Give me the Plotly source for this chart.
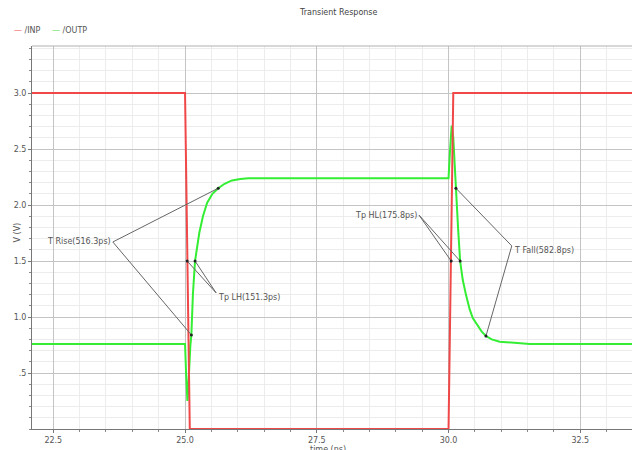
import plotly.graph_objects as go

# ---- data ----
inp_t = [22.0, 25.0, 25.09, 30.0, 30.09, 34.0]
inp_v = [3.0, 3.0, 0.0, 0.0, 3.0, 3.0]

outp_t = [22.0, 25.0, 25.02, 25.045, 25.06, 25.08, 25.1, 25.12, 25.15, 25.19, 25.23, 25.27,
          25.34, 25.42, 25.52, 25.63, 25.75, 25.89, 26.05, 26.2, 26.6, 30.0, 30.03, 30.06,
          30.09, 30.11, 30.14, 30.18, 30.22, 30.27, 30.33, 30.4, 30.46, 30.55, 30.63, 30.71,
          30.82, 30.97, 31.2, 31.54, 34.0]
outp_v = [0.76, 0.76, 0.5, 0.25, 0.35, 0.62, 0.74, 0.84, 1.21, 1.5, 1.64, 1.75,
          1.9, 2.02, 2.1, 2.15, 2.19, 2.22, 2.233, 2.238, 2.24, 2.24, 2.5, 2.71,
          2.6, 2.4, 2.15, 1.8, 1.5, 1.33, 1.2, 1.07, 0.99, 0.92, 0.87, 0.83,
          0.8, 0.78, 0.77, 0.76, 0.76]

# measurement points (time ns, volts)
meas_names = ["T Rise(516.3ps)", "Tp LH(151.3ps)", "Tp HL(175.8ps)", "T Fall(582.8ps)"]
meas_pts = [
    [(25.63, 2.15), (25.12, 0.84)],
    [(25.04, 1.5), (25.19, 1.5)],
    [(30.05, 1.5), (30.22, 1.5)],
    [(30.14, 2.15), (30.71, 0.83)],
]
# label anchor points (where leader lines meet)
label_anchor = [(23.63, 1.67), (25.59, 1.215), (29.44, 1.91), (31.2, 1.635)]
label_side = ["left", "right", "left", "right"]

y_ticks = [0.5, 1.0, 1.5, 2.0, 2.5, 3.0]
y_tick_text = [".5", "1.0", "1.5", "2.0", "2.5", "3.0"]
x_ticks = [22.5, 25.0, 27.5, 30.0, 32.5]
x_tick_text = ["22.5", "25.0", "27.5", "30.0", "32.5"]

RED = "#f04848"
GREEN = "#33ee33"
FONT = "DejaVu Sans"
TXT = "#555555"
FS = 8

OFF = 8  # page body margin
L, T, B, R = 24, 38, 29, 8
PW, PH = 640 - L - R, 450 - T - B


def px_x(x):
    return (x - OFF - L) / PW


def px_y(y):
    return (450 - B - (y - OFF)) / PH


fig = go.Figure()

fig.add_trace(go.Scatter(x=outp_t, y=outp_v, mode="lines", name="/OUTP",
                         line=dict(color=GREEN, width=2), showlegend=False))
fig.add_trace(go.Scatter(x=inp_t, y=inp_v, mode="lines", name="/INP",
                         line=dict(color=RED, width=2), showlegend=False))

annotations = []
for name, pts, anc, side in zip(meas_names, meas_pts, label_anchor, label_side):
    for (px, py) in pts:
        fig.add_trace(go.Scatter(x=[anc[0], px], y=[anc[1], py], mode="lines",
                                 line=dict(color="#666666", width=1),
                                 showlegend=False, hoverinfo="skip"))
    fig.add_trace(go.Scatter(x=[p[0] for p in pts], y=[p[1] for p in pts], mode="markers",
                             marker=dict(color="#222222", size=3),
                             showlegend=False, hoverinfo="skip"))
    annotations.append(dict(x=anc[0], y=anc[1], xref="x", yref="y", text=name,
                            showarrow=False, xanchor="right" if side == "left" else "left",
                            yanchor="middle" if side == "left" else "top",
                            yshift=0 if side == "left" else 2,
                            font=dict(family=FONT, size=FS, color=TXT)))

annotations.append(dict(x=px_x(338), y=px_y(13), xref="paper", yref="paper",
                        text="Transient Response", showarrow=False, yanchor="middle",
                        font=dict(family=FONT, size=FS, color="#444444")))
annotations.append(dict(x=px_x(12), y=px_y(30), xref="paper", yref="paper",
                        text="<span style='color:#f07070'>\u2014</span> /INP",
                        showarrow=False, xanchor="left", yanchor="middle",
                        font=dict(family=FONT, size=FS, color=TXT)))
annotations.append(dict(x=px_x(50), y=px_y(30), xref="paper", yref="paper",
                        text="<span style='color:#70e070'>\u2014</span> /OUTP",
                        showarrow=False, xanchor="left", yanchor="middle",
                        font=dict(family=FONT, size=FS, color=TXT)))
annotations.append(dict(x=px_x(328), y=px_y(449), xref="paper", yref="paper",
                        text="time (ns)", showarrow=False, yanchor="middle",
                        font=dict(family=FONT, size=FS, color=TXT)))
annotations.append(dict(x=px_x(10), y=px_y(233), xref="paper", yref="paper",
                        text="V (V)", showarrow=False, textangle=-90,
                        font=dict(family=FONT, size=FS, color=TXT)))

fig.update_layout(
    width=640, height=450,
    margin=dict(l=L, r=R, t=T, b=B, autoexpand=False),
    paper_bgcolor="white", plot_bgcolor="white",
    font=dict(family=FONT, size=FS, color=TXT),
    showlegend=False,
    annotations=annotations,
)
fig.update_xaxes(range=[22.096, 33.633], tickvals=x_ticks, ticktext=x_tick_text,
                 automargin=False,
                 showgrid=True, gridcolor="#c4c4c4", gridwidth=1,
                 ticks="outside", ticklen=3, tickcolor="#777777",
                 showline=True, linecolor="#777777", mirror=False, zeroline=False,
                 minor=dict(dtick=0.5, tick0=0, showgrid=True, gridcolor="#ececec",
                            ticks="outside", ticklen=2, tickcolor="#888888"),
                 tickfont=dict(family=FONT, size=FS, color=TXT))
fig.update_yaxes(range=[0, 3.42], tickvals=y_ticks, ticktext=y_tick_text,
                 automargin=False,
                 showgrid=True, gridcolor="#c4c4c4", gridwidth=1,
                 ticks="outside", ticklen=3, tickcolor="#777777",
                 showline=True, linecolor="#777777", zeroline=False,
                 minor=dict(dtick=0.1, tick0=0, showgrid=True, gridcolor="#ececec",
                            ticks="outside", ticklen=2, tickcolor="#888888"),
                 tickfont=dict(family=FONT, size=FS, color=TXT))
fig.add_shape(type="line", xref="paper", yref="paper", x0=0, x1=1, y0=1, y1=1,
              line=dict(color="#b0b0b0", width=1))

fig.write_html("out.html")
